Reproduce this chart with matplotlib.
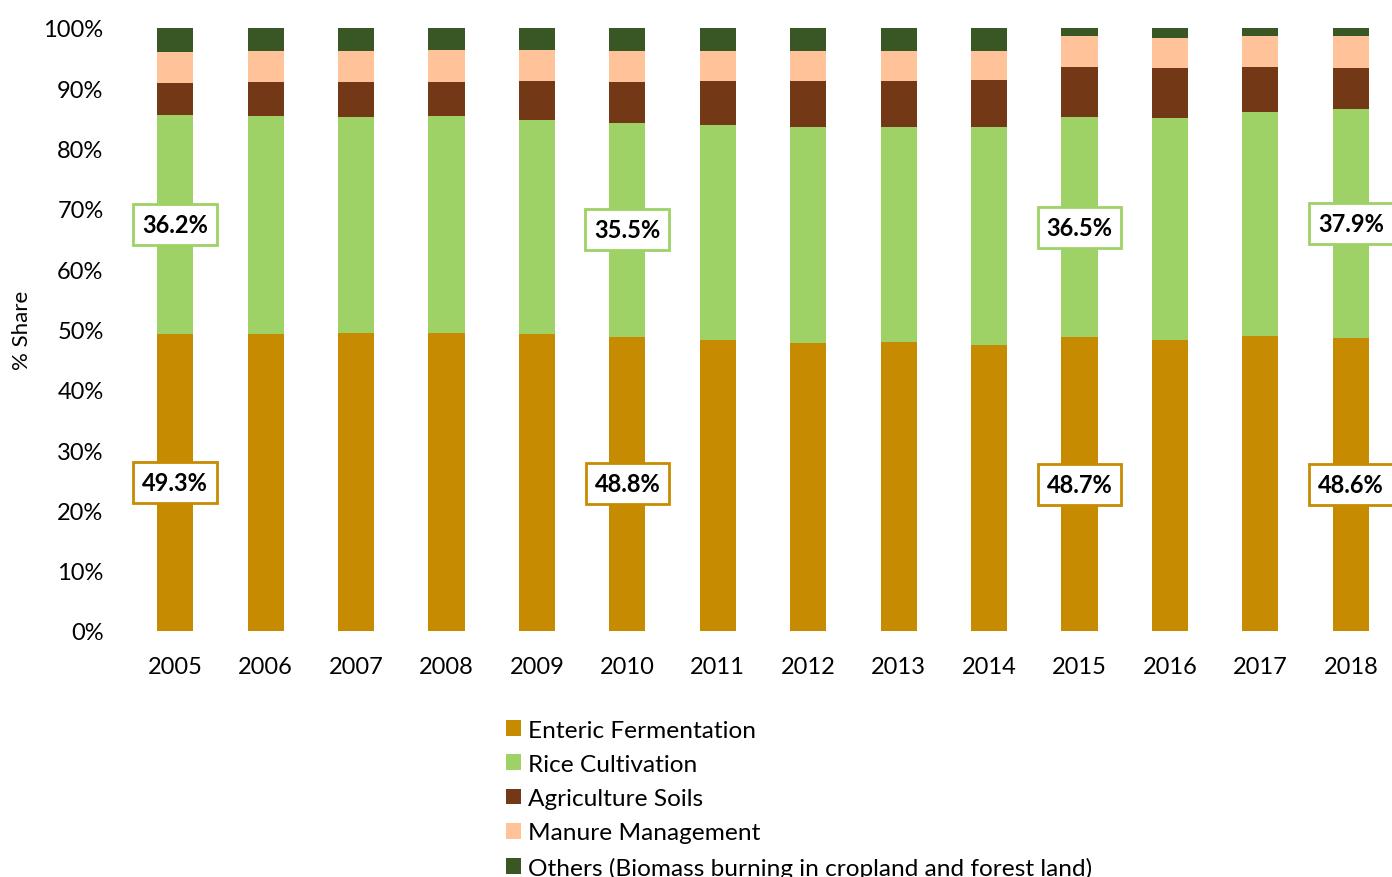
import matplotlib
matplotlib.use('Agg')
from matplotlib import pyplot as plt
import numpy as np

plt.rcParams['font.family'] = ['Lato', 'DejaVu Sans']

years = ['2005', '2006', '2007', '2008', '2009', '2010', '2011',
         '2012', '2013', '2014', '2015', '2016', '2017', '2018']
enteric = [49.3, 49.3, 49.5, 49.5, 49.3, 48.8, 48.3, 47.8, 47.9, 47.5, 48.7, 48.3, 48.9, 48.6]
rice = [36.2, 36.1, 35.7, 35.9, 35.4, 35.5, 35.6, 35.7, 35.7, 36.0, 36.5, 36.8, 37.1, 37.9]
soils = [5.4, 5.6, 5.8, 5.7, 6.5, 6.8, 7.3, 7.7, 7.6, 7.8, 8.3, 8.2, 7.5, 6.9]
manure = [5.2, 5.2, 5.2, 5.2, 5.1, 5.1, 5.0, 5.0, 5.0, 4.9, 5.1, 5.1, 5.2, 5.2]
others = [3.9, 3.8, 3.8, 3.7, 3.7, 3.8, 3.8, 3.8, 3.8, 3.8, 1.4, 1.6, 1.3, 1.4]

names = ['Enteric Fermentation', 'Rice Cultivation', 'Agriculture Soils',
         'Manure Management', 'Others (Biomass burning in cropland and forest land)']
colors = ['#C78B01', '#9ED166', '#733815', '#FFC299', '#385724']
labelled_years = ['2005', '2010', '2015', '2018']

series = [enteric, rice, soils, manure, others]

fig = plt.figure(figsize=(13.92, 8.78), dpi=100)
ax = fig.add_axes([130 / 1392, 1 - 632 / 878, 1266 / 1392, 603 / 878])

x = np.arange(len(years))
bottom = np.zeros(len(years))
for vals, name, c in zip(series, names, colors):
    vals = np.array(vals)
    ax.bar(x, vals, 0.4, bottom=bottom, color=c, label=name, edgecolor='none')
    # data labels on the first two series for selected years
    if name in names[:2]:
        for i, yr in enumerate(years):
            if yr in labelled_years:
                ax.text(x[i], bottom[i] + vals[i] / 2, '%.1f%%' % vals[i],
                        ha='center', va='center', fontsize=17, fontweight='bold',
                        bbox=dict(boxstyle='square,pad=0.38', facecolor='white',
                                  edgecolor=c, linewidth=2))
    bottom += vals

ax.set_xlim(-0.5, len(years) - 0.5)
ax.set_ylim(0, 100)
ax.set_xticks(x)
ax.set_xticklabels(years)
ax.set_yticks(range(0, 101, 10))
ax.set_yticklabels(['%d%%' % v for v in range(0, 101, 10)])
ax.tick_params(axis='both', length=0, labelsize=17, colors='#000000')
ax.tick_params(axis='y', pad=19)
ax.tick_params(axis='x', pad=18)
for s in ax.spines.values():
    s.set_visible(False)

fig.text(22 / 1392, 1 - 330 / 878, '% Share', rotation=90, ha='center', va='center', fontsize=16)

fig.legend(loc='upper left', bbox_to_anchor=(496 / 1392, 1 - 711 / 878), frameon=False,
           fontsize=17.6, handlelength=0.62, handleheight=0.62, handletextpad=0.3,
           labelspacing=0.54, borderaxespad=0)

fig.savefig('out.png', dpi=100)
